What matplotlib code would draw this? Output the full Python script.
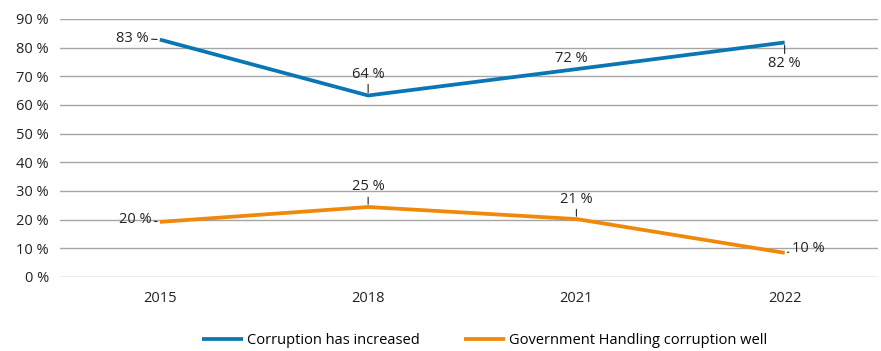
import matplotlib.pyplot as plt

plt.rcParams['font.family'] = ['Open Sans', 'DejaVu Sans']

years = ['2015', '2018', '2021', '2022']
increased = [82.8, 63.3, 72.5, 81.8]
handling = [19.2, 24.4, 20.2, 8.4]
increased_lbl = ['83 %', '64 %', '72 %', '82 %']
handling_lbl = ['20 %', '25 %', '21 %', '10 %']

blue = '#0A76B4'
orange = '#F0880A'
fs = 10.5

fig = plt.figure(figsize=(8.81, 3.51), dpi=100)
ax = fig.add_axes([0.068, 0.211, 0.929, 0.735])

x = range(len(years))
ax.plot(x, increased, color=blue, lw=2.7, label='Corruption has increased', solid_capstyle='butt')
ax.plot(x, handling, color=orange, lw=2.7, label='Government Handling corruption well', solid_capstyle='butt')

ax.set_ylim(0, 90)
ax.set_xlim(-0.48, 3.45)
ax.set_yticks(range(0, 91, 10))
ax.set_yticklabels([f'{v} %' for v in range(0, 91, 10)])
ax.set_xticks(list(x))
ax.set_xticklabels(years)
ax.grid(axis='y', color='#A6A6A6', lw=1)
ax.set_axisbelow(True)
for s in ax.spines.values():
    s.set_visible(False)
ax.tick_params(length=0, labelsize=fs, colors='#222222')
ax.tick_params(axis='x', pad=10)
ax.tick_params(axis='y', pad=8)

lead = dict(arrowstyle='-', color='#222222', lw=0.8, shrinkA=0, shrinkB=2)
def lab(i, v, t, dx, dy, ha, va, arrow=True):
    ax.annotate(t, (i, v), xytext=(dx, dy), textcoords='offset points', ha=ha, va=va,
                fontsize=fs, color='#222222', arrowprops=lead if arrow else None)

lab(0, increased[0], increased_lbl[0], -8, 1, 'right', 'center')
lab(1, increased[1], increased_lbl[1], 0, 10, 'center', 'bottom')
lab(2, increased[2], increased_lbl[2], -4, 2, 'center', 'bottom', arrow=False)
lab(3, increased[3], increased_lbl[3], 0, -10, 'center', 'top')
lab(0, handling[0], handling_lbl[0], -6, 2, 'right', 'center')
lab(1, handling[1], handling_lbl[1], 0, 9, 'center', 'bottom')
lab(2, handling[2], handling_lbl[2], 0, 9, 'center', 'bottom')
lab(3, handling[3], handling_lbl[3], 5, 3, 'left', 'center')

fig.legend(loc='center', ncol=2, frameon=False, fontsize=fs, bbox_to_anchor=(0.55, 0.03),
           handlelength=2.8, columnspacing=3, handletextpad=0.3)

fig.savefig('out.png', dpi=100)
